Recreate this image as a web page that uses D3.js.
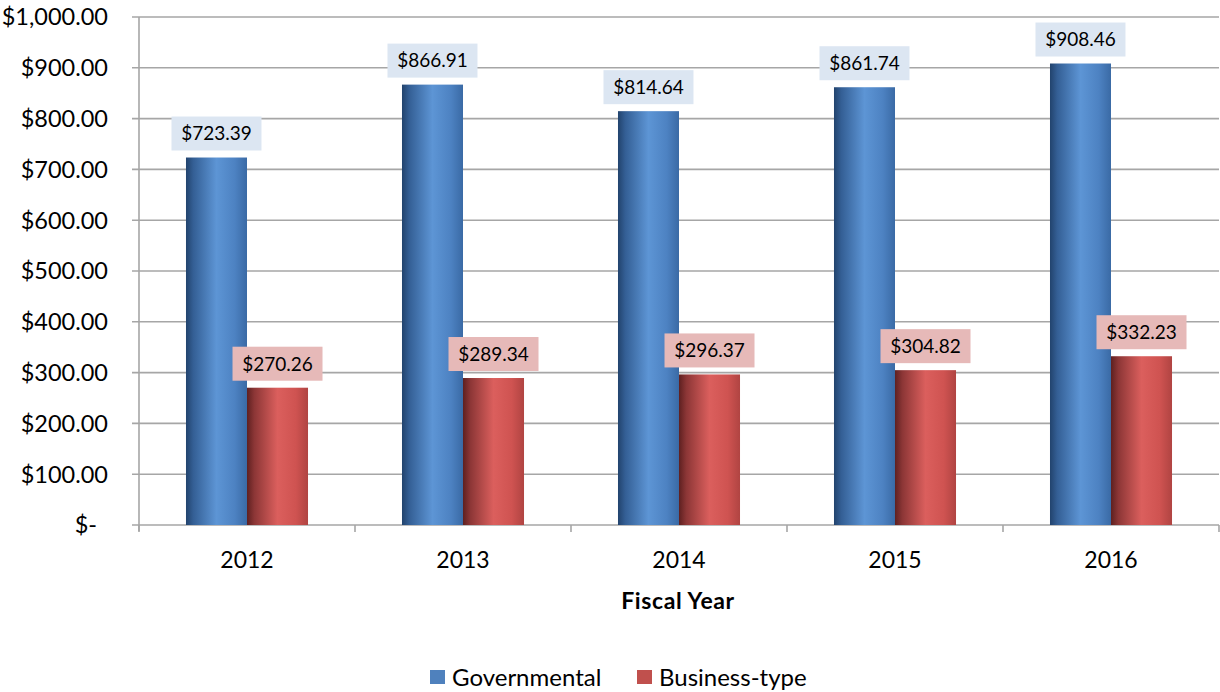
<!DOCTYPE html>
<html><head><meta charset="utf-8">
<script src="https://cdn.jsdelivr.net/npm/d3@7"></script>
<style>
html,body{margin:0;padding:0;background:#fff;}
svg{display:block;font-family:"Lato","Open Sans",sans-serif;}
</style></head>
<body><svg id="c" width="1220" height="692"></svg>
<script>
const years = ["2012","2013","2014","2015","2016"];
const series = ["Governmental","Business-type"];
const governmental = [723.39, 866.91, 814.64, 861.74, 908.46];
const businessType = [270.26, 289.34, 296.37, 304.82, 332.23];
const yTicks = [0,100,200,300,400,500,600,700,800,900,1000];
const xTitle = "Fiscal Year";

const colors = {"Governmental":"#4f81bd","Business-type":"#c0504d"};
const boxColors = {"Governmental":"#dce6f2","Business-type":"#e6b9b8"};
const values = {"Governmental":governmental,"Business-type":businessType};

const svg = d3.select("#c");
const L=139, R=1219, T=17, B=525;
const y = d3.scaleLinear().domain([0,1000]).range([B,T]);
const x0 = d3.scaleBand().domain(years).range([L,R]).paddingInner(0).paddingOuter(0);
const x1 = d3.scaleBand().domain(series).range([0,x0.bandwidth()]).paddingInner(0).paddingOuter(0.77);

const defs = svg.append("defs");
function grad(id, stops){
  const g = defs.append("linearGradient").attr("id",id).attr("x1","0%").attr("x2","100%").attr("y1","0%").attr("y2","0%");
  stops.forEach(s=>g.append("stop").attr("offset",s[0]).attr("stop-color",s[1]));
}
grad("g-Governmental",[["0%","#22436d"],["12%","#345f95"],["50%","#5d95d5"],["80%","#4d82c2"],["100%","#3a6aa5"]]);
grad("g-Business-type",[["0%","#5e2020"],["12%","#8c3636"],["50%","#db5f5d"],["80%","#cf5351"],["100%","#b04442"]]);

// gridlines
svg.append("g").selectAll("line").data(yTicks).join("line")
  .attr("x1",L-7).attr("x2",R).attr("y1",d=>y(d)).attr("y2",d=>y(d))
  .attr("stroke","#a6a6a6").attr("stroke-width",1.6);
// y axis line
svg.append("line").attr("x1",L).attr("x2",L).attr("y1",T).attr("y2",B+6).attr("stroke","#a6a6a6").attr("stroke-width",1.6);
// x ticks
svg.append("g").selectAll("line").data(d3.range(years.length+1)).join("line")
  .attr("x1",i=>L+i*x0.step()).attr("x2",i=>L+i*x0.step()).attr("y1",B).attr("y2",B+7)
  .attr("stroke","#a6a6a6").attr("stroke-width",1.6);

// y labels
const fmt = d => d===0 ? "$-" : "$" + d3.format(",.2f")(d);
svg.append("g").selectAll("text").data(yTicks).join("text")
  .attr("x", d=> d===0 ? 97 : 108).attr("y",d=>y(d)).attr("dy","0.36em")
  .attr("text-anchor","end").attr("font-size",23.5).attr("fill","#000").text(fmt);

// x labels
svg.append("g").selectAll("text").data(years).join("text")
  .attr("x",d=>x0(d)+x0.bandwidth()/2).attr("y",560).attr("dy","0.36em")
  .attr("text-anchor","middle").attr("font-size",23).text(d=>d);
svg.append("text").attr("x",L+(R-L)/2-1).attr("y",601).attr("dy","0.36em")
  .attr("text-anchor","middle").attr("font-size",23).attr("letter-spacing",0.6).attr("font-weight","bold").text(xTitle);

// bars
const flat = [];
years.forEach((yr,i)=>series.forEach(s=>flat.push({yr,s,v:values[s][i]})));
svg.append("g").selectAll("rect").data(flat).join("rect")
  .attr("x",d=>x0(d.yr)+x1(d.s)).attr("width",x1.bandwidth())
  .attr("y",d=>y(d.v)).attr("height",d=>y(0)-y(d.v))
  .attr("fill",d=>`url(#g-${d.s})`);

// data labels
const lab = svg.append("g").selectAll("g").data(flat).join("g")
  .attr("transform",d=>`translate(${x0(d.yr)+x1(d.s)+x1.bandwidth()/2},${y(d.v)-7})`);
lab.append("rect").attr("x",-45).attr("y",-34).attr("width",90).attr("height",34)
  .attr("fill",d=>boxColors[d.s]);
lab.append("text").attr("x",0).attr("y",-17).attr("dy","0.36em").attr("text-anchor","middle")
  .attr("font-size",19).text(d=>"$"+d3.format(",.2f")(d.v));

// legend
const leg = svg.append("g");
const legX = [430, 637];
series.forEach((s,i)=>{
  leg.append("rect").attr("x",legX[i]).attr("y",670).attr("width",15).attr("height",14).attr("fill",colors[s]);
  leg.append("text").attr("x",legX[i]+22).attr("y",677).attr("dy","0.36em").attr("font-size",24).text(s);
});
</script></body></html>
